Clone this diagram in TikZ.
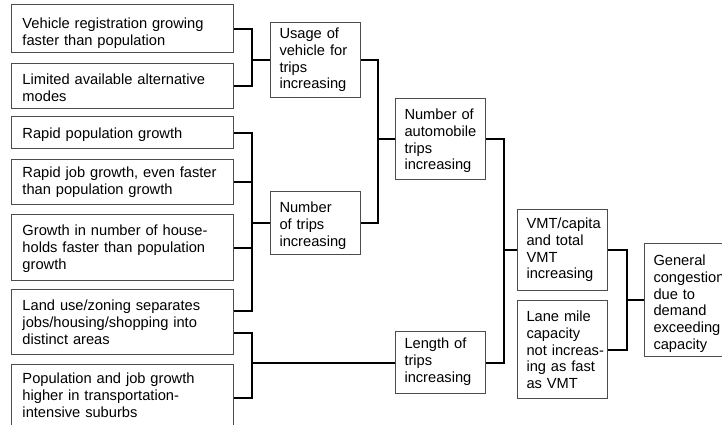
\documentclass[tikz,border=0pt]{standalone}
\usepackage{fontspec}
\setmainfont{Liberation Sans}
\usepackage{tikz}

\tikzset{
	box/.style={draw=black!70, line width=0.75pt, anchor=north west, align=left, inner ysep=0pt, font=\fontsize{11}{12.6}\selectfont},
	wide/.style={box, inner xsep=8.25pt, text width=150pt, minimum width=166.5pt},
	narrow/.style={box, inner xsep=6.75pt, text width=54pt, minimum width=67.5pt},
	link/.style={line width=1.5pt}
}

\begin{document}
\begin{tikzpicture}[x=0.75pt, y=-0.75pt]
			\useasboundingbox (0,0) rectangle (722,425);
			\clip (0,0) rectangle (722,425);
			
			\node[wide, text height=18pt, text depth=18pt] (b1) at (11,4) {Vehicle registration growing\\faster than population};
			\node[wide, text height=15.75pt, text depth=18pt] (b2) at (11,63) {Limited available alternative\\modes};
			\node[wide, text height=16.5pt, text depth=7.5pt] (b3) at (11,116) {Rapid population growth};
			\node[wide, text height=13.5pt, text depth=20.25pt] (b4) at (11,159) {Rapid job growth, even faster\\than population growth};
			\node[wide, text height=15.75pt, text depth=33.75pt] (b5) at (11,214) {Growth in number of house-\\holds faster than population\\growth};
			\node[wide, text height=15.75pt, text depth=33pt] (b6) at (11,289) {Land use/zoning separates\\jobs/housing/shopping into\\distinct areas};
			\node[wide, text height=14.25pt, text depth=35.25pt] (b7) at (11,364) {Population and job growth\\higher in transportation-\\intensive suburbs};
			
			\node[narrow, text height=12pt, text depth=44.25pt] (usage) at (270,22) {Usage of\\vehicle for\\trips\\increasing};
			\node[narrow, text height=15.75pt, text depth=31.5pt] (ntrips) at (270,191) {Number\\of trips\\increasing};
			\node[narrow, text height=15.75pt, text depth=45pt] (nauto) at (395,98) {Number of\\automobile\\trips\\increasing};
			\node[narrow, text height=12.75pt, text depth=33.75pt] (length) at (395,331) {Length of\\trips\\increasing};
			\node[narrow, text height=14.25pt, text depth=46.5pt] (vmt) at (517,209) {VMT/capita\\and total\\VMT\\increasing};
			\node[narrow, text height=15.75pt, text depth=57.75pt] (lane) at (517,300) {Lane mile\\capacity\\\mbox{not increas-}\\ing as fast\\as VMT};
			\node[narrow, text height=16.5pt, text depth=68.25pt] (general) at (644,243) {General\\congestion\\due to\\demand\\exceeding\\capacity};
			
			\draw[link] (b1.east) -- ++(18,0) coordinate (j1) |- (b2.east);
			\draw[link] (usage.west) -- (usage.west -| j1);
			
			\draw[link] (b3.east) -- ++(18,0) coordinate (j2) |- ([yshift=7.9pt]b6.east);
			\draw[link] (b4.east) -- (b4.east -| j2);
			\draw[link] (b5.east) -- (b5.east -| j2);
			\draw[link] (ntrips.west) -- (ntrips.west -| j2);
			
			\draw[link] ([yshift=-8.6pt]b6.east) -- ++(18,0) coordinate (j3) |- (b7.east);
			\draw[link] (length.west) -- (length.west -| j3);
			
			\draw[link] (usage.east) -- ++(17,0) coordinate (j4) |- (ntrips.east);
			\draw[link] (nauto.west) -- (nauto.west -| j4);
			
			\draw[link] (nauto.east) -- ++(18,0) coordinate (j5) |- (length.east);
			\draw[link] (vmt.west) -- (vmt.west -| j5);
			
			\draw[link] (vmt.east) -- ++(19,0) coordinate (j6) |- (lane.east);
			\draw[link] (general.west) -- (general.west -| j6);
			
		\end{tikzpicture}
\end{document}
